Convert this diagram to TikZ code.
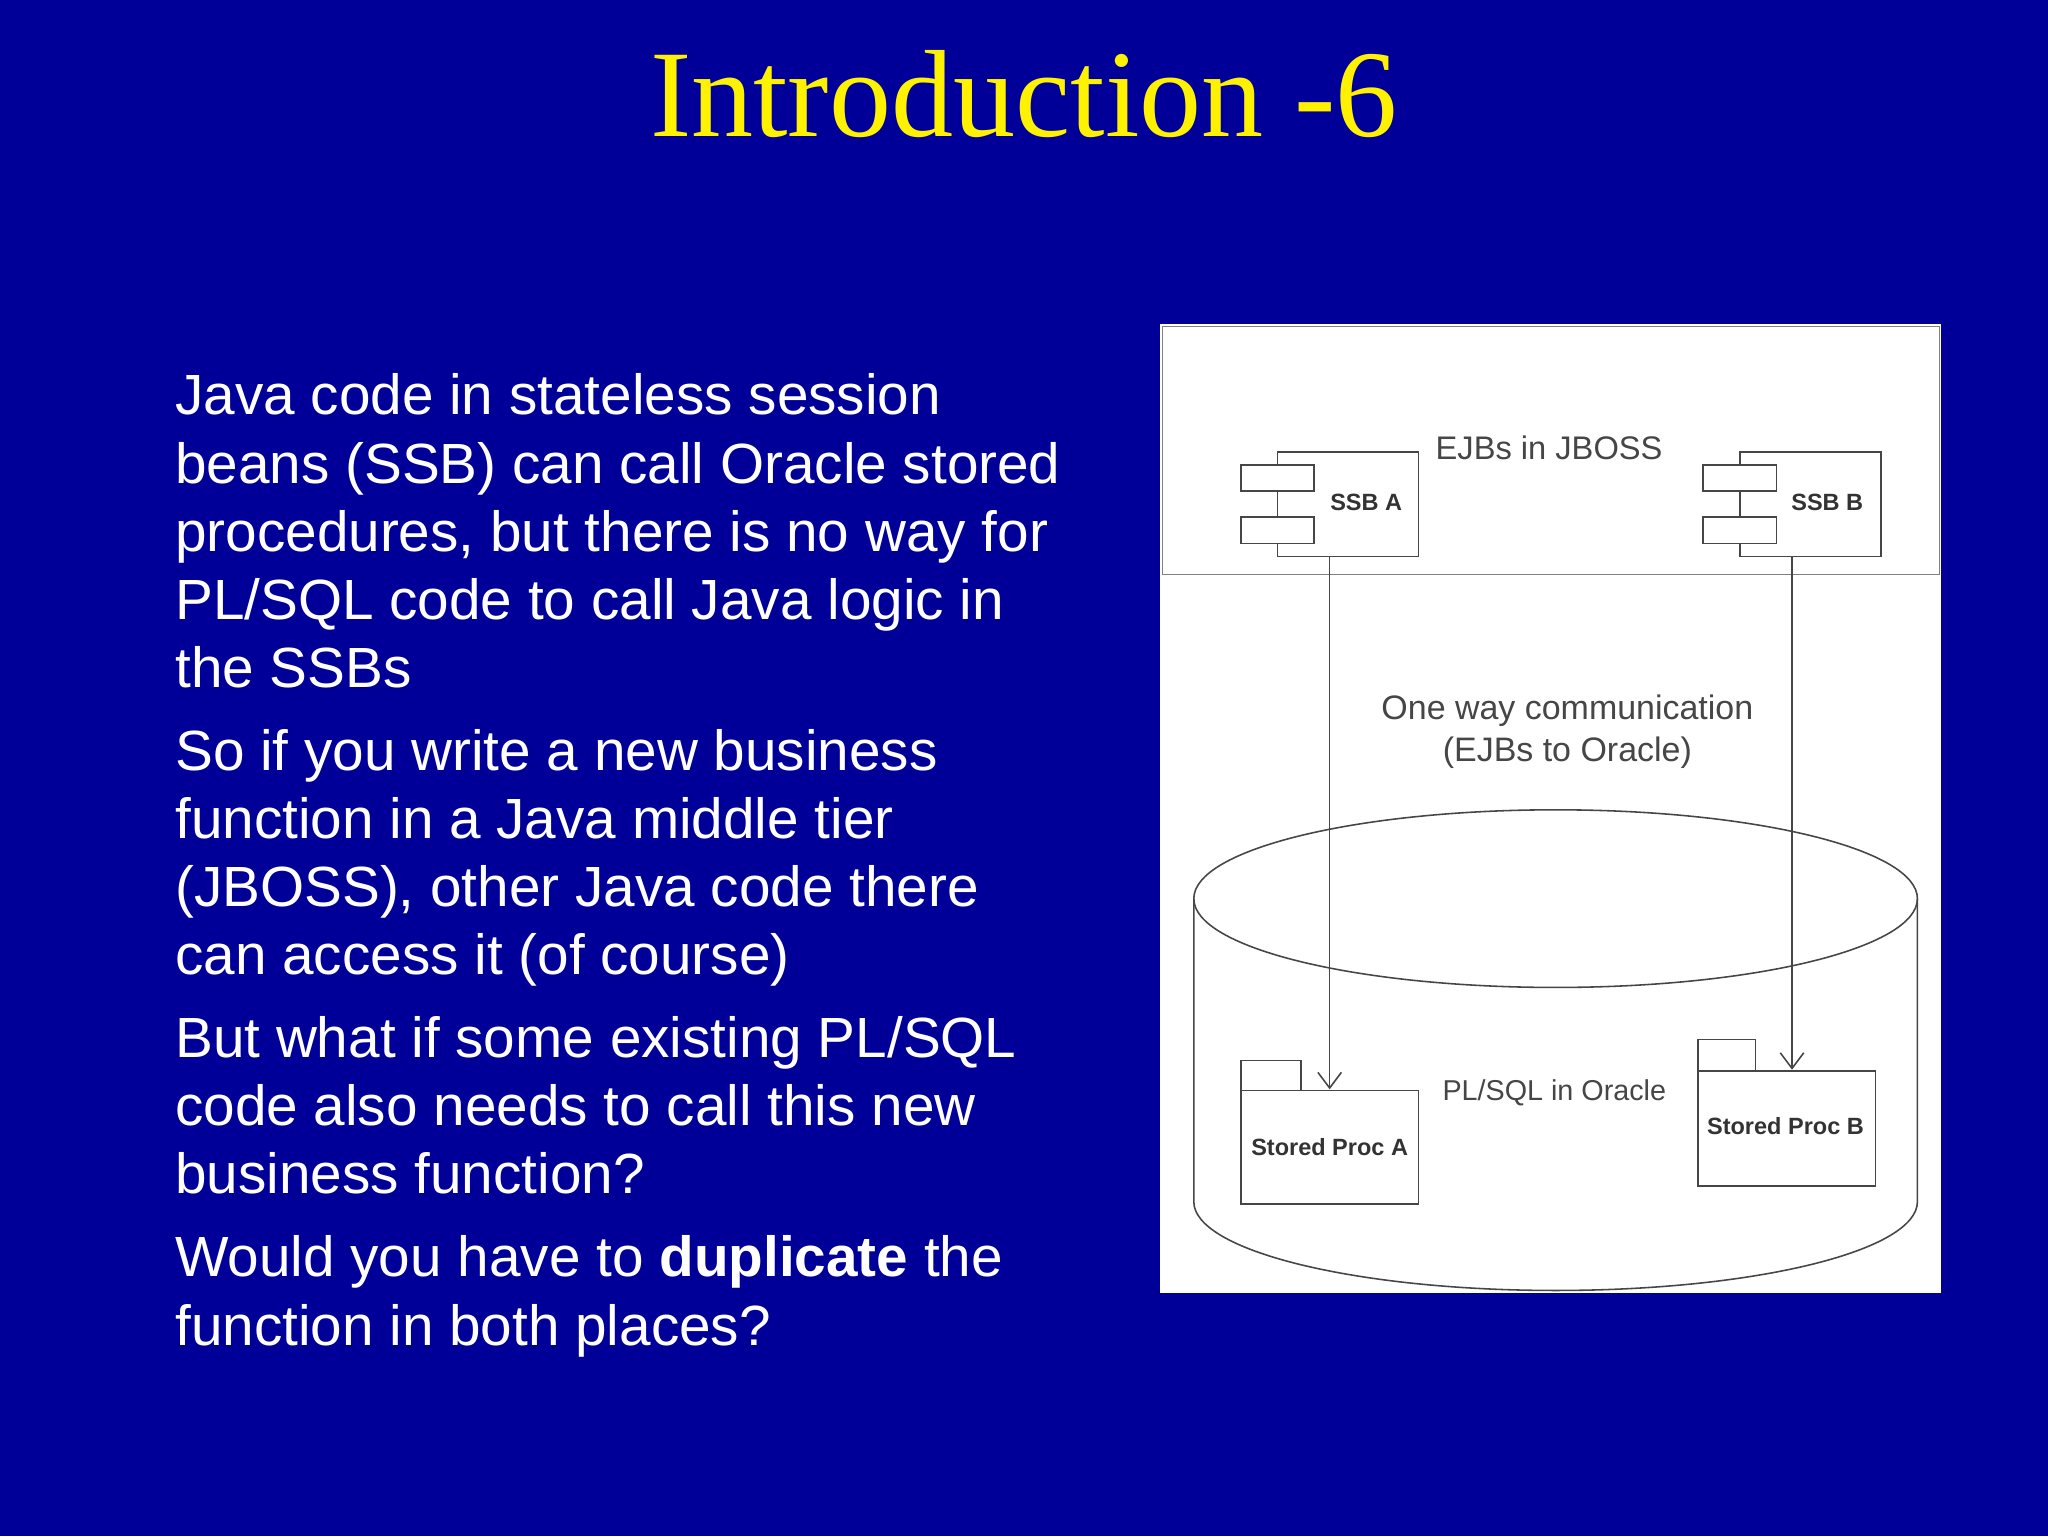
\documentclass[tikz,border=0pt]{standalone}
\usepackage{fontspec}
\setmainfont{Liberation Sans}
\newfontfamily\titlefont{Liberation Serif}
\usetikzlibrary{arrows.meta}
\definecolor{bg}{RGB}{0,0,153}
\definecolor{ln}{RGB}{70,70,70}
\tikzset{body/.style={anchor=base west,text=white,font=\fontsize{43.4}{46}\selectfont,inner sep=0pt},
 dg/.style={draw=ln,line width=1.2pt},
 small/.style={font=\fontsize{26}{32}\selectfont,text=ln,inner sep=0pt,align=center},
 lab/.style={font=\bfseries\fontsize{18}{22}\selectfont,text=black!80,inner sep=0pt}}
\begin{document}
\begin{tikzpicture}[x=1pt,y=-1pt]
\fill[bg] (0,0) rectangle (1568,1176);
\node[text=yellow,font=\titlefont\fontsize{95}{105}\selectfont] (title) at (784,72) {Introduction -6};
\foreach \t/\y [count=\i] in {
 {Java code in stateless session}/302,{beans (SSB) can call Oracle stored}/355,
 {procedures, but there is no way for}/407,{PL/SQL code to call Java logic in}/459,{the SSBs}/511,
 {So if you write a new business}/575,{function in a Java middle tier}/627,
 {(JBOSS), other Java code there}/679,{can access it (of course)}/731,
 {But what if some existing PL/SQL}/795,{code also needs to call this new}/847,{business function?}/899,
 {Would you have to \textbf{duplicate} the}/962,{function in both places?}/1015}
 \node[body] (l\i) at (134,\y+15) {\t};
% diagram
\fill[white] (888,248) rectangle (1486,990);
\draw[dg,draw=gray] (890,250) rectangle (1485,440);
\node[small,font=\fontsize{25}{30}\selectfont] (ejb) at (1186,343) {EJBs in JBOSS};
\draw[dg,fill=white] (978,346) rectangle (1086,426);
\draw[dg,fill=white] (950,356) rectangle (1006,376);
\draw[dg,fill=white] (950,396) rectangle (1006,416);
\node[lab] (ssba) at (1046,385) {SSB A};
\draw[dg,fill=white] (1332,346) rectangle (1440,426);
\draw[dg,fill=white] (1304,356) rectangle (1360,376);
\draw[dg,fill=white] (1304,396) rectangle (1360,416);
\node[lab] (ssbb) at (1399,385) {SSB B};
\node[small] (one) at (1200,560) {One way communication\\(EJBs to Oracle)};
% cylinder
\draw[dg] (1191,688) ellipse [x radius=277, y radius=68];
\draw[dg] (914,688) -- (914,920) arc[start angle=180,end angle=0,x radius=277,y radius=68] -- (1468,688);
\node[small,font=\fontsize{22}{26}\selectfont] (pl) at (1190,837) {PL/SQL in Oracle};
\draw[dg,fill=white] (950,812) rectangle (996,835);
\draw[dg,fill=white] (950,835) rectangle (1086,922);
\node[lab] (spa) at (1018,878) {Stored Proc A};
\draw[dg,fill=white] (1300,796) rectangle (1344,820);
\draw[dg,fill=white] (1300,820) rectangle (1436,908);
\node[lab] (spb) at (1367,862) {Stored Proc B};
\coordinate (a1) at (1018,426); \coordinate (a2) at (1018,834);
\coordinate (b1) at (1372,426); \coordinate (b2) at (1372,819);
\draw[dg,-{Straight Barb[length=12pt,width=18pt]}] (a1) -- (a2);
\draw[dg,-{Straight Barb[length=12pt,width=18pt]}] (b1) -- (b2);
\end{tikzpicture}
\end{document}
